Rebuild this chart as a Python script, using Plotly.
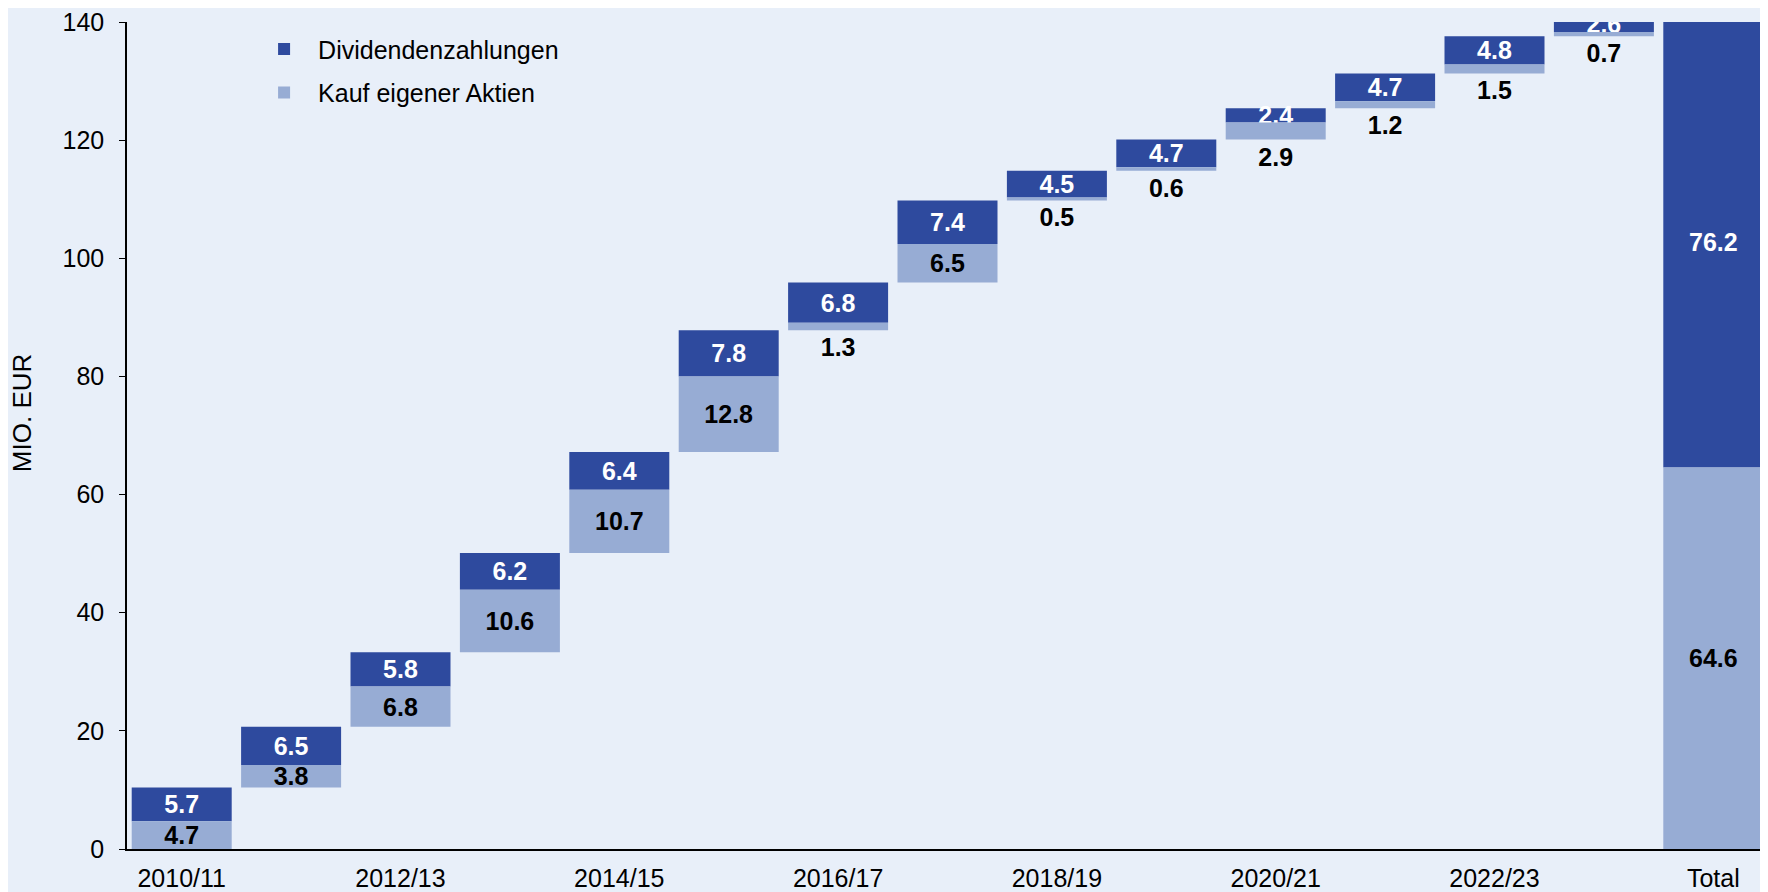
import numpy as np
import plotly.graph_objects as go

# Geschäftsjahre + Summe
years = ['2010/11', '2011/12', '2012/13', '2013/14', '2014/15', '2015/16', '2016/17',
         '2017/18', '2018/19', '2019/20', '2020/21', '2021/22', '2022/23', '2023/24', 'Total']
buyback = [4.7, 3.8, 6.8, 10.6, 10.7, 12.8, 1.3, 6.5, 0.5, 0.6, 2.9, 1.2, 1.5, 0.7, 64.6]
dividend = [5.7, 6.5, 5.8, 6.2, 6.4, 7.8, 6.8, 7.4, 4.5, 4.7, 2.4, 4.7, 4.8, 2.6, 76.2]

DARK = 'rgb(46,74,158)'
LIGHT = 'rgb(151,172,212)'
BG = 'rgb(232,239,249)'
FONT = 'Liberation Sans, Arial, sans-serif'

b = np.array(buyback[:-1])
d = np.array(dividend[:-1])
start = np.concatenate([[0], np.cumsum(b + d)[:-1]])
light_top = np.append(start + b, buyback[-1])
dark_base = np.append(start + b, buyback[-1])

fig = go.Figure()
fig.add_trace(go.Bar(
    x=years, y=dividend, base=dark_base,
    name='Dividendenzahlungen', legendgroup='a',
    marker=dict(color=DARK, line=dict(width=0)),
    text=[f'{v:.1f}' for v in dividend], texttemplate='<b>%{text}</b>',
    textposition='inside', insidetextanchor='middle', constraintext='none',
    textfont=dict(color='white', size=25, family=FONT),
))
# light bars drawn downward from the top of the segment so small values get their label below
fig.add_trace(go.Bar(
    x=years, y=[-v for v in buyback], base=light_top,
    name='Kauf eigener Aktien', legendgroup='b',
    marker=dict(color=LIGHT, line=dict(width=0)),
    text=[f'{v:.1f}' for v in buyback], texttemplate='<b>%{text}</b>',
    textposition=['inside' if v >= 3 else 'outside' for v in buyback],
    insidetextanchor='middle', constraintext='none',
    textfont=dict(color='black', size=25, family=FONT),
))

# page body has an 8px margin, so the figure is a bit smaller than the window
fig.update_layout(
    barmode='overlay', bargap=0.086,
    width=1760, height=884,
    margin=dict(l=119, r=0, t=13, b=37),
    paper_bgcolor=BG, plot_bgcolor=BG,
    font=dict(family=FONT, size=25, color='black'),
    showlegend=True,
    legend=dict(x=0.075, y=0.995, xanchor='left', yanchor='top', bgcolor='rgba(0,0,0,0)',
                font=dict(size=25), itemwidth=58, tracegroupgap=8, traceorder='grouped'),
    xaxis=dict(type='category', tickvals=years[::2], showline=True, linecolor='black',
               linewidth=1.5, ticks='', showgrid=False, range=[-0.5, 14.5],
               ticklabelstandoff=6),
    yaxis=dict(range=[0, 140], dtick=20, showline=True, linecolor='black', linewidth=1.5,
               ticks='outside', ticklen=6, tickcolor='black', showgrid=False, zeroline=False,
               ticklabelstandoff=10, ticklabeloverflow='allow'),
    annotations=[dict(text='MIO. EUR', textangle=-90, xref='paper', yref='paper',
                      x=-0.064, y=0.527, xanchor='center', yanchor='middle',
                      showarrow=False, font=dict(size=26, family=FONT))],
)

fig.write_html("out.html")
